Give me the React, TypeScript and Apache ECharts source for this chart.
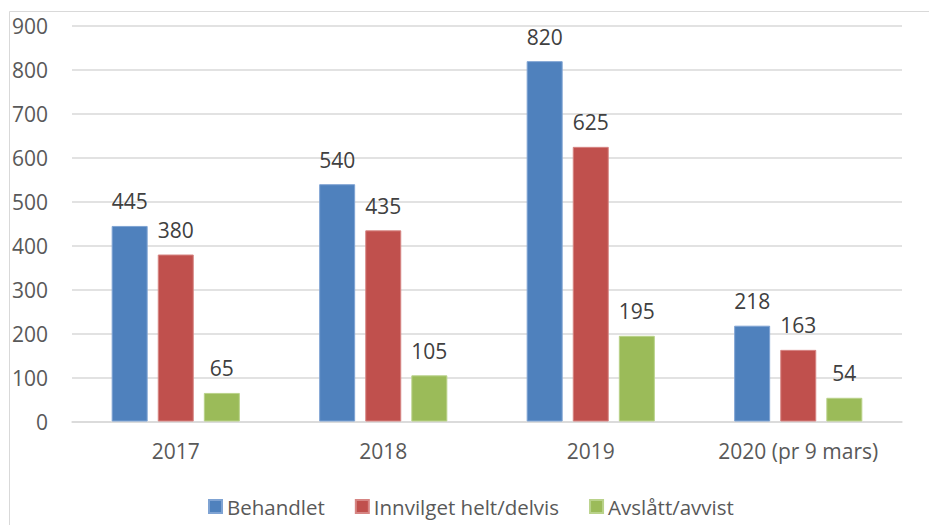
import React, { useEffect, useRef } from "react";
import * as echarts from "echarts";

const categories = ["2017", "2018", "2019", "2020 (pr 9 mars)"];
const behandlet = [445, 540, 820, 218];
const innvilget = [380, 435, 625, 163];
const avslatt = [65, 105, 195, 54];
const seriesNames = ["Behandlet", "Innvilget helt/delvis", "Avslått/avvist"];
const colors = ["#4F81BD", "#C0504D", "#9BBB59"];
const borders = ["#7FA3D3", "#D68583", "#B9D28A"];

const FONT = "'Open Sans', Lato, sans-serif";

export default function App() {
  const ref = useRef<HTMLDivElement>(null);
  useEffect(() => {
    document.body.style.margin = "0";
    const chart = echarts.init(ref.current!, null, { renderer: "svg" });
    const data = [behandlet, innvilget, avslatt];
    chart.setOption({
      animation: false,
      backgroundColor: "#ffffff",
      textStyle: { fontFamily: FONT },
      graphic: [
        {
          type: "rect",
          shape: { x: 9.5, y: 11.5, width: 940, height: 540 },
          style: { fill: "none", stroke: "#D9D9D9", lineWidth: 1 },
          silent: true,
        },
      ],
      grid: { left: 72, right: 27, top: 26, bottom: 103.5, containLabel: false },
      legend: {
        data: seriesNames,
        left: 203,
        top: 491,
        icon: "rect",
        itemWidth: 13,
        itemHeight: 13,
        itemGap: 30,
        textStyle: { fontSize: 20.5, color: "#595959", fontFamily: FONT },
      },
      xAxis: {
        type: "category",
        data: categories,
        axisLine: { show: true, lineStyle: { color: "#D9D9D9", width: 1.5 } },
        axisTick: { show: false },
        axisLabel: {
          interval: 0,
          hideOverlap: false,
          fontSize: 21,
          color: "#595959",
          margin: 19,
          fontFamily: FONT,
        },
      },
      yAxis: {
        type: "value",
        min: 0,
        max: 900,
        interval: 100,
        axisLine: { show: false },
        axisTick: { show: false },
        splitLine: { lineStyle: { color: "#D9D9D9", width: 1.5 } },
        axisLabel: { fontSize: 21, color: "#595959", margin: 24, fontFamily: FONT },
      },
      series: seriesNames.map((name, i) => ({
        name,
        type: "bar",
        data: data[i],
        barWidth: 36,
        barGap: "28%",
        itemStyle: { color: colors[i], borderColor: borders[i], borderWidth: 1 },
        label: {
          show: true,
          position: "top",
          distance: 14,
          fontSize: 21,
          color: "#404040",
          fontFamily: FONT,
        },
      })),
    });
    return () => chart.dispose();
  }, []);
  return <div ref={ref} style={{ width: 929, height: 525 }} />;
}
